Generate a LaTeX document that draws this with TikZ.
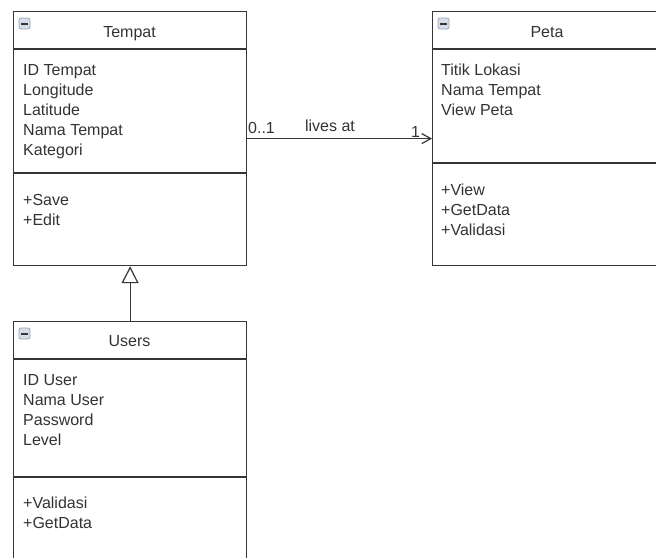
\documentclass[tikz,border=0pt]{standalone}
\usepackage{fontspec}
\setmainfont{Liberation Sans}
\usetikzlibrary{arrows.meta}
\definecolor{ln}{HTML}{363636}
\definecolor{tx}{HTML}{333333}
\definecolor{icf}{HTML}{D5DEE8}
\definecolor{icd}{HTML}{9AA8B8}
\tikzset{
  classbox/.style={draw=ln, line width=1.2pt, rectangle, anchor=north west, inner sep=0pt, minimum width=233pt},
  txt/.style={anchor=base west, inner sep=0pt, text=tx, font=\fontsize{16}{20}\selectfont},
  ttl/.style={anchor=base, inner sep=0pt, text=tx, font=\fontsize{16}{20}\selectfont},
  divider/.style={draw=ln, line width=1.2pt},
  icon/.style={draw=icd, fill=icf, line width=0.8pt, rounded corners=2pt, minimum width=11pt, minimum height=11pt, inner sep=0pt,
    path picture={\draw[line width=2pt, ln] ([xshift=2.4pt]path picture bounding box.west) -- ([xshift=-2.4pt]path picture bounding box.east);}},
}
\begin{document}
\begin{tikzpicture}[x=1pt,y=-1pt]
\useasboundingbox (0,0) rectangle (656,557);
\begin{scope}
\clip (0,0) rectangle (656,557);
\fill[white] (0,0) rectangle (656,557);
% Tempat
\node[classbox, minimum height=254pt] (tempat) at (13,11) {};
\draw[divider] (tempat.west |- 0,49) -- (tempat.east |- 0,49);
\draw[divider] (tempat.west |- 0,173) -- (tempat.east |- 0,173);
\node[icon] (tic) at (24.5,23.5) {};
\node[ttl] (tt) at (129.5,37) {Tempat};
\node[txt] (ta1) at (23,75) {ID Tempat};
\node[txt] (ta2) at (23,95) {Longitude};
\node[txt] (ta3) at (23,115) {Latitude};
\node[txt] (ta4) at (23,135) {Nama Tempat};
\node[txt] (ta5) at (23,155) {Kategori};
\node[txt] (tm1) at (23,205) {+Save};
\node[txt] (tm2) at (23,225) {+Edit};
% Peta
\node[classbox, minimum height=254pt] (peta) at (432,11) {};
\draw[divider] (peta.west |- 0,49) -- (peta.east |- 0,49);
\draw[divider] (peta.west |- 0,163) -- (peta.east |- 0,163);
\node[icon] (pic) at (443.5,23.5) {};
\node[ttl] (pt) at (547,37) {Peta};
\node[txt] (pa1) at (441,75) {Titik Lokasi};
\node[txt] (pa2) at (441,95) {Nama Tempat};
\node[txt] (pa3) at (441,115) {View Peta};
\node[txt] (pm1) at (441,195) {+View};
\node[txt] (pm2) at (441,215) {+GetData};
\node[txt] (pm3) at (441,235) {+Validasi};
% Users
\node[classbox, minimum height=290pt] (users) at (13,321) {};
\draw[divider] (users.west |- 0,359) -- (users.east |- 0,359);
\draw[divider] (users.west |- 0,477) -- (users.east |- 0,477);
\node[icon] (uic) at (24.5,333.5) {};
\node[ttl] (ut) at (129.5,346) {Users};
\node[txt] (ua1) at (23,385) {ID User};
\node[txt] (ua2) at (23,405) {Nama User};
\node[txt] (ua3) at (23,425) {Password};
\node[txt] (ua4) at (23,445) {Level};
\node[txt] (um1) at (23,508) {+Validasi};
\node[txt] (um2) at (23,528) {+GetData};
% connectors
\draw[ln, line width=1.2pt, -{Straight Barb[length=9pt,width=10pt]}] (tempat.east) -- (peta.west);
\draw[ln, line width=1.2pt, -{Triangle[open, length=17pt, width=17pt, fill=white]}] (users.north) -- (tempat.south);
\node[txt] (l1) at (248,133) {0..1};
\node[ttl] (l2) at (330,131) {lives at};
\node[txt] (l3) at (411,137) {1};
\end{scope}
\end{tikzpicture}
\end{document}
